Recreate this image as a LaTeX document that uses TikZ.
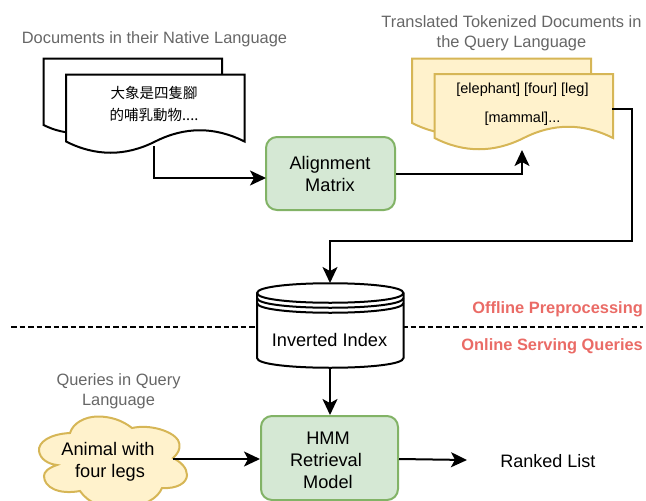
\documentclass[tikz,border=0pt]{standalone}
\usepackage{fontspec}
\setmainfont{Liberation Sans}
\newfontfamily\cjkfont{Noto Sans CJK TC}
\usetikzlibrary{arrows.meta}
\definecolor{greenfill}{HTML}{D5E8D4}
\definecolor{greenline}{HTML}{82B366}
\definecolor{yellowfill}{HTML}{FFF2CC}
\definecolor{yellowline}{HTML}{D6B656}
\definecolor{capgray}{HTML}{666666}
\definecolor{zonered}{HTML}{EA6B66}
\tikzset{
  x=1pt,y=-1pt,
  outline/.style={line width=2pt,draw=black,fill=white,line join=miter},
  docyellow/.style={line width=2pt,draw=yellowline,fill=yellowfill},
  greenbox/.style={draw=greenline,fill=greenfill,line width=2pt,rounded corners=11pt,inner sep=0pt,align=center,text=black,font=\fontsize{18.2}{22}\selectfont},
  wire/.style={line width=2pt,draw=black,-{Stealth[length=16pt,width=15pt,inset=4pt]}},
  caption/.style={text=capgray,align=center,inner sep=0pt,font=\fontsize{16.4}{20}\selectfont},
  zone/.style={text=zonered,inner sep=0pt,anchor=east,font=\fontsize{16.4}{20}\selectfont\bfseries},
  plain/.style={text=black,align=center,inner sep=0pt,font=\fontsize{18.2}{22}\selectfont},
  small/.style={text=black,align=center,inner sep=0pt,font=\fontsize{14.5}{22}\selectfont},
}
\begin{document}
\begin{tikzpicture}
\useasboundingbox (0,0) rectangle (646,501);
\clip (0,0) rectangle (646,501);
% separator
\draw[line width=2pt,dash pattern=on 5.5pt off 3pt] (11,326.8) -- (643,326.8);
% native docs
\draw[outline] (43.5,58.5) -- (222,58.5) -- (222,125) .. controls (199.7,114) and (177.4,114) .. (132.7,125) .. controls (88,136) and (65.8,136) .. (43.5,125) -- cycle;
\draw[outline] (66,74.5) -- (244.5,74.5) -- (244.5,141.5) .. controls (214.7,126.5) and (185,126.5) .. (155.2,141.5) .. controls (125.5,156.5) and (95.7,156.5) .. (66,141.5) -- cycle;
\node[small] (nativetext) at (154,104) {\cjkfont 大象是四隻腳\\\cjkfont 的哺乳動物....};
\coordinate (nativeout) at (153.5,146);
% translated docs
\draw[docyellow] (412,58.5) -- (591,58.5) -- (591,123) .. controls (561,108) and (531,108) .. (501.5,123) .. controls (471.5,138) and (442,138) .. (412,123) -- cycle;
\draw[docyellow] (434.5,74) -- (613,74) -- (613,138) .. controls (583,123) and (553.5,123) .. (523.7,138) .. controls (494,153) and (464,153) .. (434.5,138) -- cycle;
\node[small] (tokentop) at (522.5,89.5) {[elephant] [four] [leg]};
\node[small] (tokenbottom) at (522.5,118.5) {[mammal]...};
\coordinate (transin) at (522,150);
\coordinate (transout) at (612,109);
% captions
\node[caption] (cap1) at (154.5,39) {Documents in their Native Language};
\node[caption] (cap2) at (511.5,33.5) {Translated Tokenized Documents in\\the Query Language};
\node[caption] (cap3) at (118.5,391) {Queries in Query\\Language};
% boxes
\node[greenbox,minimum width=129pt,minimum height=73pt] (align) at (330.5,173.5) {};
\node[plain] (aligntext) at (330,173.5) {Alignment\\Matrix};
\node[greenbox,minimum width=137pt,minimum height=84pt] (hmm) at (329.5,458) {};
\node[plain] (hmmtext) at (328,460) {HMM\\\hspace*{-4pt}Retrieval\\Model};
% cylinder
\draw[outline] (257,293) .. controls (257,280) and (403.5,280) .. (403.5,293) -- (403.5,358) .. controls (403.5,371) and (257,371) .. (257,358) -- cycle;
\draw[line width=2pt] (257,293) .. controls (257,306) and (403.5,306) .. (403.5,293);
\draw[line width=2pt] (257,298) .. controls (257,311) and (403.5,311) .. (403.5,298);
\draw[line width=2pt] (257,303) .. controls (257,316) and (403.5,316) .. (403.5,303);
\node[plain] (index) at (329.5,340) {Inverted Index};
\coordinate (indextop) at (330,283);
\coordinate (indexbottom) at (330,368);
% cloud
\draw[docyellow] (70,433) .. controls (50,434) and (38,442) .. (39,451) .. controls (40,459) and (48,464) .. (57,465) .. controls (48,468) and (44,472) .. (44,476) .. controls (44,487) and (58,495) .. (80,491) .. controls (88,503) and (105,510) .. (125,508) .. controls (145,506) and (158,498) .. (162,488) .. controls (177,489) and (187,483) .. (187,475) .. controls (187,468) and (181,462) .. (173,458) .. controls (180,452) and (181,445) .. (178,440) .. controls (172,431) and (150,424) .. (132,428) .. controls (122,420) and (110,416.5) .. (98,416.5) .. controls (85,416.5) and (73,423) .. (70,433) -- cycle;
\node[plain] (query) at (108,462) {Animal with\\\hspace*{4pt}four legs};
\coordinate (queryout) at (173,459);
% result
\node[plain,font=\fontsize{18}{22}\selectfont] (ranked) at (548,461) {Ranked List};
\coordinate (rankedin) at (467,460);
% zones
\node[zone] (offline) at (643,309.5) {Offline Preprocessing};
\node[zone] (online) at (643,346.5) {Online Serving Queries};
% connectors
\coordinate (alignin) at (266,178);
\draw[wire] (nativeout) |- (alignin);
\draw[wire] (align.east) -| (transin);
\draw[wire] (transout) -- (631.5,109) -- (631.5,241) -- (330,241) -- (indextop);
\draw[wire] (indexbottom) -- (hmm.north -| indexbottom);
\draw[wire] (queryout) -- (hmm.west |- queryout);
\draw[wire] (hmm.east |- queryout) -- (rankedin);
\end{tikzpicture}
\end{document}
